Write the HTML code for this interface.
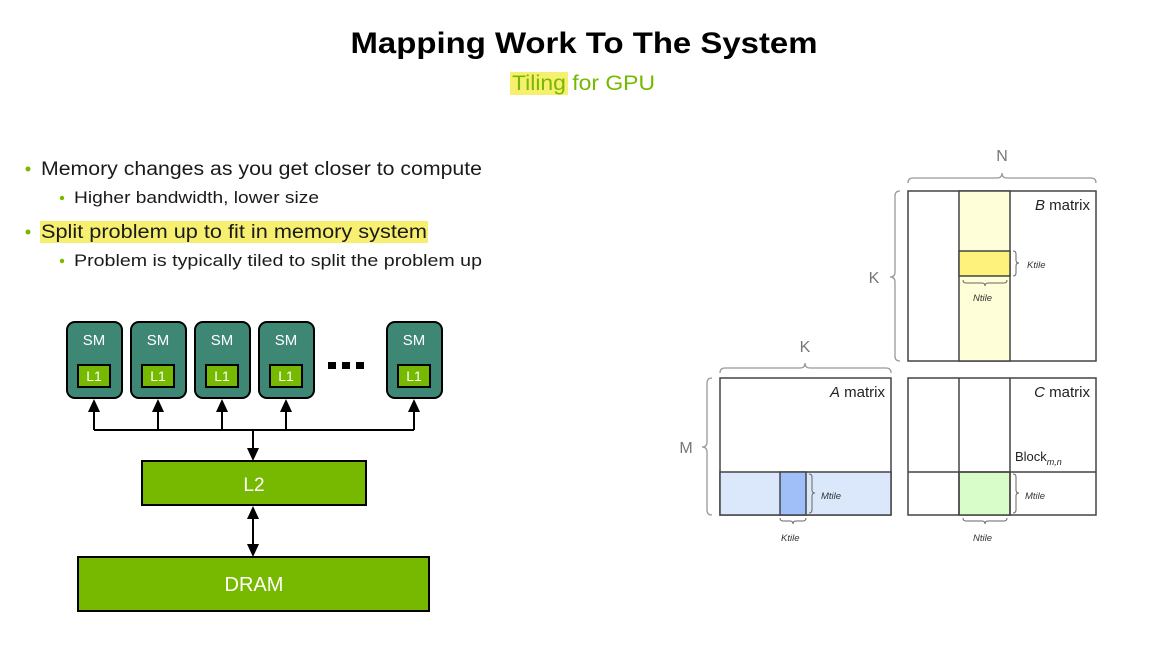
<!DOCTYPE html>
<html><head><meta charset="utf-8"><style>body{margin:0;background:#fff}svg{display:block}</style></head><body>
<svg width="1172" height="660" viewBox="0 0 1172 660" xmlns="http://www.w3.org/2000/svg" font-family="Liberation Sans, sans-serif">
<text x="584" y="53" text-anchor="middle" font-size="30" font-weight="bold" textLength="467" lengthAdjust="spacingAndGlyphs">Mapping Work To The System</text>
<rect x="510" y="72" width="58" height="23" fill="#f7ef6f"/>
<text x="512" y="90" font-size="21" fill="#76b900" textLength="143" lengthAdjust="spacingAndGlyphs">Tiling for GPU</text>
<g font-size="19" fill="#1a1a1a">
<circle cx="28" cy="169" r="2.5" fill="#76b900"/><text x="41" y="175" textLength="441" lengthAdjust="spacingAndGlyphs">Memory changes as you get closer to compute</text>
<circle cx="62" cy="198" r="2.2" fill="#76b900"/><text x="74" y="203" font-size="17" textLength="245" lengthAdjust="spacingAndGlyphs">Higher bandwidth, lower size</text>
<rect x="40" y="221" width="388" height="22" fill="#f7ef6f"/>
<circle cx="28" cy="232" r="2.5" fill="#76b900"/><text x="41" y="238" textLength="386" lengthAdjust="spacingAndGlyphs">Split problem up to fit in memory system</text>
<circle cx="62" cy="261" r="2.2" fill="#76b900"/><text x="74" y="266" font-size="17" textLength="408" lengthAdjust="spacingAndGlyphs">Problem is typically tiled to split the problem up</text>
</g>
<!-- GPU diagram -->
<g stroke="#000" stroke-width="2">
<g id="sm">
<rect x="67" y="322" width="55" height="76" rx="8" fill="#3f8775"/>
<rect x="78" y="365" width="32" height="22" fill="#76b900"/>
</g>
<use href="#sm" x="64"/><use href="#sm" x="128"/><use href="#sm" x="192"/><use href="#sm" x="320"/>
<path d="M94,430H414M94,430V410M158,430V410M222,430V410M286,430V410M414,430V410M253,430V450M253,515V548" fill="none"/>
<rect x="142" y="461" width="224" height="44" fill="#76b900"/>
<rect x="78" y="557" width="351" height="54" fill="#76b900"/>
</g>
<g fill="#000">
<path d="M94,399l-6,13h12z"/><path d="M158,399l-6,13h12z"/><path d="M222,399l-6,13h12z"/><path d="M286,399l-6,13h12z"/><path d="M414,399l-6,13h12z"/>
<path d="M253,461l-6,-13h12z"/>
<path d="M253,506l-6,13h12z"/><path d="M253,557l-6,-13h12z"/>
</g>
<g fill="#fff" text-anchor="middle">
<g font-size="15"><text x="94" y="345">SM</text><text x="158" y="345">SM</text><text x="222" y="345">SM</text><text x="286" y="345">SM</text><text x="414" y="345">SM</text></g>
<g font-size="14"><text x="94" y="381">L1</text><text x="158" y="381">L1</text><text x="222" y="381">L1</text><text x="286" y="381">L1</text><text x="414" y="381">L1</text></g>
<text x="254" y="491" font-size="19">L2</text>
<text x="254" y="591" font-size="20">DRAM</text>
</g>
<g fill="#000"><rect x="328" y="362" width="8" height="7"/><rect x="342" y="362" width="8" height="7"/><rect x="356" y="362" width="8" height="7"/></g>
<!-- matrices -->
<g stroke="#444" stroke-width="1.5">
<rect x="908" y="191" width="188" height="170" fill="#fff"/>
<rect x="959" y="191" width="51" height="170" fill="#fefed8"/>
<rect x="959" y="251" width="51" height="25" fill="#fef17c"/>
<rect x="720" y="378" width="171" height="137" fill="#fff"/>
<rect x="720" y="472" width="171" height="43" fill="#dbe8fb"/>
<rect x="780" y="472" width="26" height="43" fill="#a0bef7"/>
<rect x="908" y="378" width="188" height="137" fill="#fff"/>
<rect x="959" y="472" width="51" height="43" fill="#d8fdc8"/>
<path d="M959,378V515M1010,378V515M908,472H1096" fill="none"/>
</g>
<g fill="none" stroke="#999" stroke-width="1.3">
<path d="M908,183q0,-5 5,-5H997q5,0 5,-5q0,5 5,5H1091q5,0 5,5"/>
<path d="M720,373q0,-5 5,-5H800q5,0 5,-5q0,5 5,5H886q5,0 5,5"/>
<path d="M900,191q-5,0 -5,5V272q0,5 -5,5q5,0 5,5V356q0,5 5,5"/>
<path d="M712,378q-5,0 -5,5V442q0,5 -5,5q5,0 5,5V510q0,5 5,5"/>
</g>
<g fill="none" stroke="#666" stroke-width="1">
<path d="M1013,251q3,0 3,3V260q0,3 3,3q-3,0 -3,3V273q0,3 -3,3"/>
<path d="M963,280q0,3 3,3H982q3,0 3,3q0,-3 3,-3H1004q3,0 3,-3"/>
<path d="M809,474q3,0 3,3V490q0,3 3,3q-3,0 -3,3V510q0,3 -3,3"/>
<path d="M1013,474q3,0 3,3V490q0,3 3,3q-3,0 -3,3V510q0,3 -3,3"/>
<path d="M780,518q0,3 3,3H790q3,0 3,3q0,-3 3,-3H803q3,0 3,-3"/>
<path d="M963,518q0,3 3,3H982q3,0 3,3q0,-3 3,-3H1004q3,0 3,-3"/>
</g>
<g fill="#777" font-size="16" text-anchor="middle">
<text x="1002" y="161">N</text><text x="805" y="352">K</text><text x="874" y="283">K</text><text x="686" y="453">M</text>
</g>
<g font-size="15" fill="#222" text-anchor="end">
<text x="1090" y="210"><tspan font-style="italic">B</tspan> matrix</text>
<text x="885" y="397"><tspan font-style="italic">A</tspan> matrix</text>
<text x="1090" y="397"><tspan font-style="italic">C</tspan> matrix</text>
</g>
<text x="1015" y="461" font-size="13" fill="#222">Block<tspan font-size="9" font-style="italic" dy="4">m,n</tspan></text>
<g font-size="9.5" font-style="italic" fill="#333">
<text x="1027" y="268">Ktile</text><text x="973" y="301">Ntile</text>
<text x="821" y="499">Mtile</text><text x="1025" y="499">Mtile</text>
<text x="781" y="541">Ktile</text><text x="973" y="541">Ntile</text>
</g>
</svg>
</body></html>
